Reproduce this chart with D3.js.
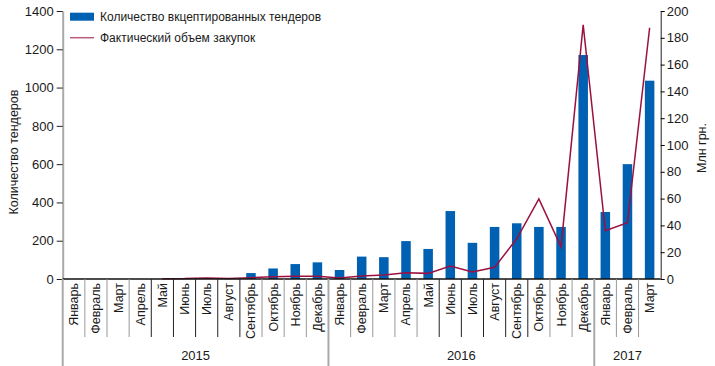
<!DOCTYPE html>
<html>
<head>
<meta charset="utf-8">
<script src="https://cdn.jsdelivr.net/npm/d3@7"></script>
<style>
  body { margin: 0; background: #fff; }
  svg text { font-family: "Liberation Sans", Arial, sans-serif; fill: #1a1a1a; }
</style>
</head>
<body>
<script>
// data
const months = ["Январь", "Февраль", "Март", "Апрель", "Май", "Июнь", "Июль", "Август",
  "Сентябрь", "Октябрь", "Ноябрь", "Декабрь",
  "Январь", "Февраль", "Март", "Апрель", "Май", "Июнь", "Июль", "Август",
  "Сентябрь", "Октябрь", "Ноябрь", "Декабрь",
  "Январь", "Февраль", "Март"];
const years = [
  {label: "2015", from: 0, to: 12},
  {label: "2016", from: 12, to: 24},
  {label: "2017", from: 24, to: 27}
];
const tenders = [0, 0, 0, 0, 0, 0, 0, 0, 31, 55, 78, 87,
  47, 117, 114, 198, 157, 355, 189, 272, 291, 272, 272, 1170,
  350, 600, 1036];
const volume = [null, null, null, null, 0.2, 0.3, 0.8, 0.3, 1, 1.7, 2, 2,
  0.8, 2.2, 3, 4.7, 4.2, 9.7, 5.2, 8.7, 30, 59.7, 24, 189.6,
  36, 42, 187.5];
const leftTicks = [0, 200, 400, 600, 800, 1000, 1200, 1400];
const rightTicks = [0, 20, 40, 60, 80, 100, 120, 140, 160, 180, 200];

const W = 715, H = 366;
const plotLeft = 62.7, plotRight = 660.7, plotTop = 11, plotBottom = 279;

const svg = d3.select("body").append("svg")
  .attr("width", W).attr("height", H);

const idx = d3.range(months.length);
const x = d3.scaleBand().domain(idx).range([plotLeft, plotRight]).paddingInner(0.57).paddingOuter(0.285);
const xb = d3.scaleLinear().domain([0, months.length]).range([plotLeft, plotRight]);
const yL = d3.scaleLinear().domain([0, 1400]).range([plotBottom, plotTop]);
const yR = d3.scaleLinear().domain([0, 200]).range([plotBottom, plotTop]);

// bars
svg.append("g").selectAll("rect")
  .data(tenders)
  .enter()
  .append("rect")
  .attr("x", (d, i) => x(i))
  .attr("width", x.bandwidth())
  .attr("y", d => yL(d))
  .attr("height", d => plotBottom - yL(d))
  .attr("fill", "#0060b2");

// line
const line = d3.line()
  .defined(d => d != null)
  .x((d, i) => xb(i + 0.5))
  .y(d => yR(d));
svg.append("path")
  .datum(volume)
  .attr("d", line)
  .attr("fill", "none")
  .attr("stroke", "#9c1040")
  .attr("stroke-width", 1.5);

// left axis
const gL = svg.append("g").attr("transform", `translate(${plotLeft},0)`)
  .call(d3.axisLeft(yL).tickValues(leftTicks).tickFormat(d3.format("d"))
    .tickSize(6).tickPadding(3).tickSizeOuter(0));
gL.select(".domain").attr("stroke", "#aaa").attr("stroke-width", 2);
gL.selectAll(".tick line").attr("stroke", "#222");
gL.selectAll(".tick text").style("font-size", "13px").attr("fill", "#1a1a1a");

// right axis
const gR = svg.append("g").attr("transform", `translate(${plotRight},0)`)
  .call(d3.axisRight(yR).tickValues(rightTicks).tickFormat(d3.format("d"))
    .tickSize(4).tickPadding(2).tickSizeOuter(0));
gR.select(".domain").attr("stroke", "#222");
gR.selectAll(".tick text").style("font-size", "13px").attr("fill", "#1a1a1a");

// x baseline
svg.append("line")
  .attr("x1", plotLeft).attr("x2", plotRight)
  .attr("y1", plotBottom).attr("y2", plotBottom)
  .attr("stroke", "#111").attr("stroke-width", 1.3);

// month separators
const yearEdges = [0, 12, 24, 27];
svg.append("g").selectAll("line")
  .data(d3.range(1, months.length).filter(i => !yearEdges.includes(i)))
  .enter()
  .append("line")
  .attr("x1", d => xb(d)).attr("x2", d => xb(d))
  .attr("y1", plotBottom).attr("y2", 337)
  .attr("stroke", d => (d >= 4 && d <= 8) || (d >= 17 && d <= 21) ? "#222" : "#999")
  .attr("stroke-width", 1);

// year separators
svg.append("g").selectAll("line")
  .data(yearEdges.slice(0, 3))
  .enter()
  .append("line")
  .attr("x1", d => xb(d)).attr("x2", d => xb(d))
  .attr("y1", plotBottom).attr("y2", 366)
  .attr("stroke", "#aaa").attr("stroke-width", 2);

// month labels
svg.append("g").selectAll("text")
  .data(months)
  .enter()
  .append("text")
  .attr("transform", (d, i) => `translate(${xb(i + 0.5) + 4.5},283) rotate(-90)`)
  .attr("text-anchor", "end")
  .style("font-size", "12.5px")
  .text(d => d);

// year labels
svg.append("g").selectAll("text")
  .data(years)
  .enter()
  .append("text")
  .attr("x", d => xb((d.from + d.to) / 2))
  .attr("y", 360)
  .attr("text-anchor", "middle")
  .style("font-size", "13px")
  .text(d => d.label);

// axis titles
svg.append("text")
  .attr("transform", "translate(18,152) rotate(-90)")
  .attr("text-anchor", "middle")
  .style("font-size", "12.5px")
  .text("Количество тендеров");
svg.append("text")
  .attr("transform", "translate(706,148) rotate(-90)")
  .attr("text-anchor", "middle")
  .style("font-size", "12.5px")
  .text("Млн грн.");

// legend
svg.append("rect").attr("x", 70).attr("y", 12.7).attr("width", 24).attr("height", 8).attr("fill", "#0060b2");
svg.append("text").attr("x", 100).attr("y", 21).style("font-size", "12px").text("Количество вкцептированных тендеров");
svg.append("line").attr("x1", 70).attr("x2", 94).attr("y1", 37.7).attr("y2", 37.7)
  .attr("stroke", "#b85a78").attr("stroke-width", 1.5);
svg.append("text").attr("x", 100).attr("y", 42).style("font-size", "12px").text("Фактический объем закупок");
</script>
</body>
</html>
